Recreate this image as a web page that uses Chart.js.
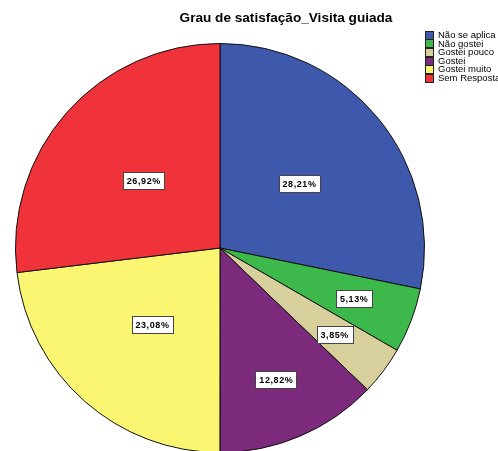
<!DOCTYPE html>
<html>
<head>
<meta charset="utf-8">
<script src="https://cdn.jsdelivr.net/npm/chart.js@4"></script>
<style>
html,body{margin:0;padding:0;width:498px;height:451px;overflow:hidden;background:#fff;font-family:"Liberation Sans",Arial,sans-serif;}
#wrap{position:relative;width:498px;height:451px;overflow:hidden;}
#c{position:absolute;left:0;top:0;}
#title{position:absolute;left:150px;width:272px;top:10px;text-align:center;font-weight:bold;font-size:13.6px;color:#000;}
#legend{position:absolute;left:425px;top:31px;font-size:9.5px;color:#000;}
#legend .row{height:8.6px;line-height:8.6px;white-space:nowrap;display:flex;align-items:center;}
#legend .sw{width:7px;height:7px;border:1px solid #222;margin-right:4px;box-sizing:content-box;}
</style>
</head>
<body>
<div id="wrap">
<canvas id="c" width="498" height="460"></canvas>
<div id="title">Grau de satisfação_Visita guiada</div>
<div id="legend"></div>
</div>
<script>
const chartTitle = "Grau de satisfação_Visita guiada";
const categories = ["Não se aplica","Não gostei","Gostei pouco","Gostei","Gostei muito","Sem Resposta"];
const percentages = [28.21, 5.13, 3.85, 12.82, 23.08, 26.92];
const sliceColors = ["#3e58ab","#3cb94a","#d8d09c","#7b2a7c","#faf672","#f0323b"];

document.getElementById('title').textContent = chartTitle;
const leg = document.getElementById('legend');
categories.forEach((c,i)=>{
  const r = document.createElement('div'); r.className='row';
  const s = document.createElement('span'); s.className='sw'; s.style.background = sliceColors[i];
  const t = document.createElement('span'); t.textContent = c;
  r.appendChild(s); r.appendChild(t); leg.appendChild(r);
});

const labelPlugin = {
  id: 'boxLabels',
  afterDatasetsDraw(chart){
    const ctx = chart.ctx;
    const meta = chart.getDatasetMeta(0);
    ctx.save();
    ctx.font = 'bold 9px "Liberation Sans", Arial, sans-serif';
    if ('letterSpacing' in ctx) ctx.letterSpacing = '0.6px';
    ctx.textAlign = 'center';
    ctx.textBaseline = 'middle';
    meta.data.forEach((arc,i)=>{
      const v = chart.data.datasets[0].data[i];
      const a = (arc.startAngle + arc.endAngle)/2;
      const frac = v < 15 ? 0.7 : 0.5;
      const r = arc.outerRadius * frac;
      const x = arc.x + Math.cos(a)*r;
      const y = arc.y + Math.sin(a)*r;
      const txt = v.toFixed(2).replace('.', ',') + '%';
      const w = ctx.measureText(txt).width + 7;
      const h = 17;
      const bx = Math.round(x - w/2)+0.5, by = Math.round(y - h/2)+0.5;
      ctx.fillStyle = '#fff';
      ctx.fillRect(bx, by, Math.round(w), h);
      ctx.strokeStyle = '#444';
      ctx.lineWidth = 1;
      ctx.strokeRect(bx, by, Math.round(w), h);
      ctx.fillStyle = '#000';
      ctx.fillText(txt, x + 0.3, y + 1);
    });
    ctx.restore();
  }
};

new Chart(document.getElementById('c'), {
  type: 'pie',
  data: {
    labels: categories,
    datasets: [{
      data: percentages,
      backgroundColor: sliceColors,
      borderColor: '#111',
      borderWidth: 1
    }]
  },
  options: {
    responsive: false,
    animation: false,
    devicePixelRatio: 1,
    layout: { padding: { left: 15, right: 73, top: 43, bottom: 7 } },
    plugins: { legend: { display: false }, tooltip: { enabled: false }, title: { display: false } }
  },
  plugins: [labelPlugin]
});
</script>
</body>
</html>
